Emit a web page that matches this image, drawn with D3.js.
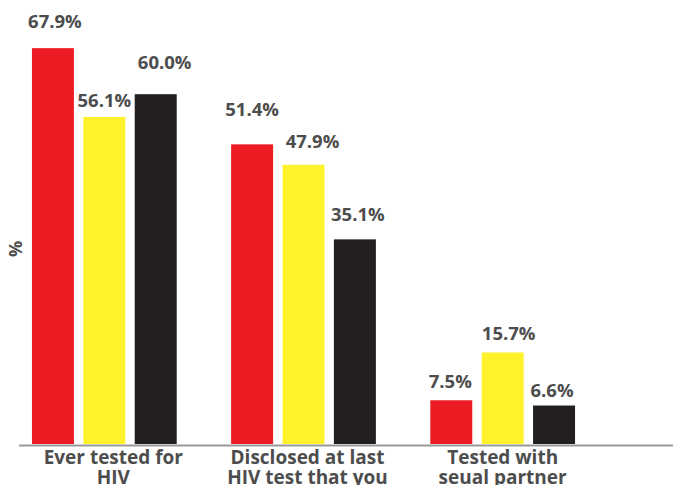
<!DOCTYPE html>
<html>
<head>
<meta charset="utf-8">
<script src="https://cdn.jsdelivr.net/npm/d3@7"></script>
<style>
  html, body { margin: 0; padding: 0; background: #fff; }
  svg { display: block; }
  text { font-family: "Open Sans", "Noto Sans", sans-serif; font-weight: 700; fill: #4d4d4d; }
</style>
</head>
<body>
<svg id="chart" width="673" height="485"></svg>
<script>
// ---- data ----
const categories = [["Ever tested for", "HIV"], ["Disclosed at last", "HIV test that you"], ["Tested with", "seual partner"]];
const seriesNames = ["Series A", "Series B", "Series C"];
const seriesA = [67.9, 51.4, 7.5];
const seriesB = [56.1, 47.9, 15.7];
const seriesC = [60.0, 35.1, 6.6];
const valueLabels = [["67.9%", "56.1%", "60.0%"], ["51.4%", "47.9%", "35.1%"], ["7.5%", "15.7%", "6.6%"]];
const yAxisLabel = "%";

// ---- layout (label nudges) ----
const labelLift = [[20, 10, 25], [28, 17, 18], [12, 12, 9]];
const labelDx = [[2, 0, 9], [0, 9, 3], [-1, 6, -2]];
const catDx = [9, 4, 0];
const colors = ["#ed1c24", "#fff22d", "#231f20"];

const svg = d3.select("#chart");
const seriesValues = [seriesA, seriesB, seriesC];

const x0 = d3.scaleBand().domain(d3.range(categories.length))
  .range([4.75, 602.25]).paddingInner(0.2732).paddingOuter(0.1366);
const x1 = d3.scaleBand().domain(d3.range(seriesNames.length))
  .range([0, x0.bandwidth()]).paddingInner(0.183).paddingOuter(0);
const y = d3.scaleLinear().domain([0, 70]).range([444, 444 - 70 * 5.83]);

const groups = svg.selectAll("g.grp").data(categories).join("g")
  .attr("class", "grp")
  .attr("transform", (d, i) => `translate(${x0(i)},0)`);

groups.each(function(cat, ci) {
  const g = d3.select(this);
  seriesValues.forEach((vals, si) => {
    g.append("rect")
      .attr("x", x1(si))
      .attr("width", x1.bandwidth())
      .attr("y", y(vals[ci]))
      .attr("height", y(0) - y(vals[ci]))
      .attr("fill", colors[si]);
    g.append("text")
      .attr("x", x1(si) + x1.bandwidth() / 2 + labelDx[ci][si])
      .attr("y", y(vals[ci]) - labelLift[ci][si])
      .attr("text-anchor", "middle")
      .style("font-size", "18.5px")
      .text(valueLabels[ci][si]);
  });
});

// axis line
const xAxis = d3.axisBottom(x0).tickSize(0).tickFormat("");
const axG = svg.append("g").attr("transform", "translate(0,445.5)").call(xAxis);
axG.select(".domain").remove();
axG.append("line").attr("x1", 19).attr("x2", 673).attr("y1", 0).attr("y2", 0)
  .attr("stroke", "#9a9a9a").attr("stroke-width", 2.2);

// category labels
categories.forEach((lines, ci) => {
  const t = svg.append("text")
    .attr("text-anchor", "middle")
    .style("font-size", "19px")
    .attr("transform", `translate(${x0(ci) + x0.bandwidth() / 2 + catDx[ci]},463.5)`);
  lines.forEach((ln, li) => {
    t.append("tspan").attr("x", 0).attr("dy", li === 0 ? 0 : 20.7).text(ln);
  });
});

// y label
svg.append("text")
  .attr("transform", "translate(22,249) rotate(-90)")
  .attr("text-anchor", "middle")
  .style("font-size", "18px")
  .text(yAxisLabel);
</script>
</body>
</html>
